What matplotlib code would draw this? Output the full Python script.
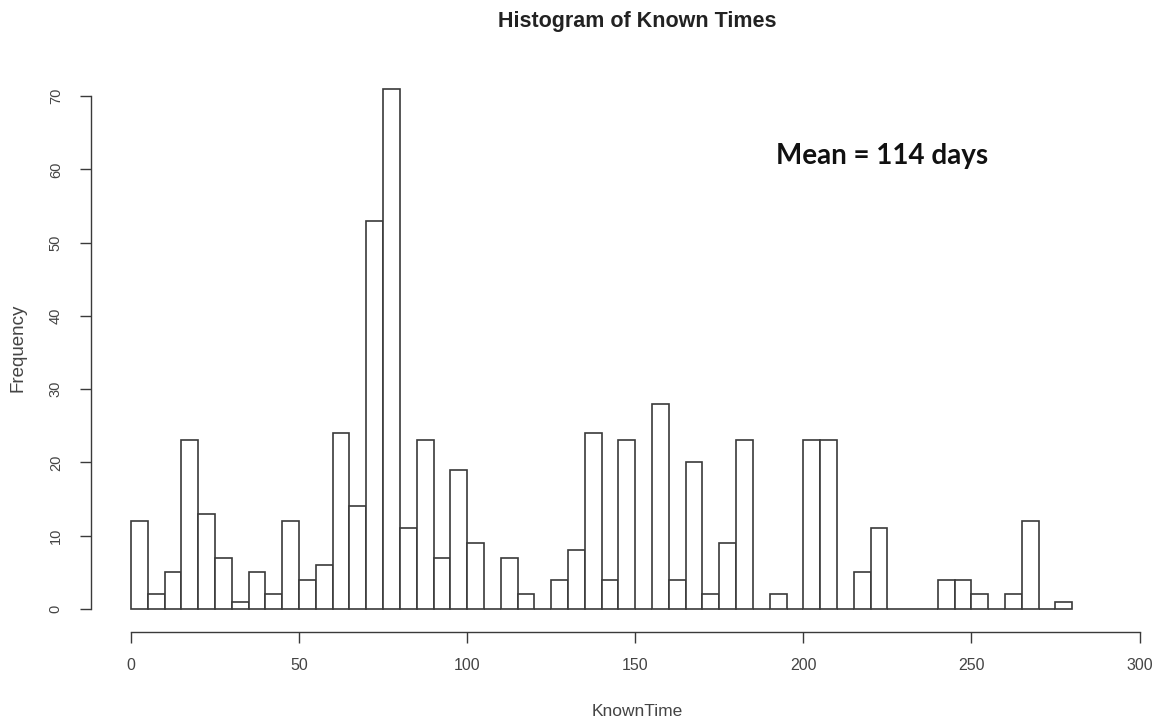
import numpy as np
import matplotlib.pyplot as plt

# histogram bins (width 5 days) and counts
bin_edges = np.arange(0, 285, 5)
counts = [12, 2, 5, 23, 13, 7, 1, 5, 2, 12,
          4, 6, 24, 14, 53, 71, 11, 23, 7, 19,
          9, 0, 7, 2, 0, 4, 8, 24, 4, 23,
          0, 28, 4, 20, 2, 9, 23, 0, 2, 0,
          23, 23, 0, 5, 11, 0, 0, 0, 4, 4,
          2, 0, 2, 12, 0, 1]
x_ticks = [0, 50, 100, 150, 200, 250, 300]
y_ticks = [0, 10, 20, 30, 40, 50, 60, 70]
title = "Histogram of Known Times"
note = "Mean = 114 days"

plt.rcParams['font.family'] = ['Liberation Sans', 'DejaVu Sans']
line_col = "#3a3a3a"
text_col = "#444444"

fig = plt.figure(figsize=(11.62, 7.25), dpi=100)
ax = fig.add_axes([0.078, 0.1287, 0.920, 0.777])

ax.bar(bin_edges[:-1], counts, width=5, align='edge', color='white',
       edgecolor=line_col, linewidth=1.2)

ax.set_xlim(-12, 306)
ax.set_ylim(-3.1, 73.8)

for s in ['top', 'right']:
    ax.spines[s].set_visible(False)
ax.spines['bottom'].set_bounds(0, 300)
ax.spines['left'].set_bounds(0, 70)
for s in ['bottom', 'left']:
    ax.spines[s].set_color(line_col)
    ax.spines[s].set_linewidth(1.0)

ax.set_xticks(x_ticks)
ax.set_yticks(y_ticks)
ax.tick_params(axis='x', length=8, width=1.0, color=line_col, pad=11,
               labelsize=11.5, labelcolor=text_col)
ax.tick_params(axis='y', length=8, width=1.0, color=line_col, pad=12,
               labelsize=10.5, labelcolor=text_col)
for lbl in ax.get_yticklabels():
    lbl.set_rotation(90)
    lbl.set_va('center')

fig.text(637 / 1162, 1 - 21 / 725, title, ha='center', va='center',
         fontsize=15.5, fontweight='bold', color='#222222')
fig.text(637 / 1162, 1 - 711 / 725, "KnownTime", ha='center', va='center',
         fontsize=12.5, color=text_col)
fig.text(18 / 1162, 1 - 348 / 725, "Frequency", ha='center', va='center',
         rotation=90, fontsize=13.5, color=text_col)
fig.text(882 / 1162, 1 - 156 / 725, note, ha='center', va='center',
         fontsize=20, fontweight='bold', color='#111111', family=['Lato', 'DejaVu Sans'])

fig.savefig("out.png", dpi=100)
